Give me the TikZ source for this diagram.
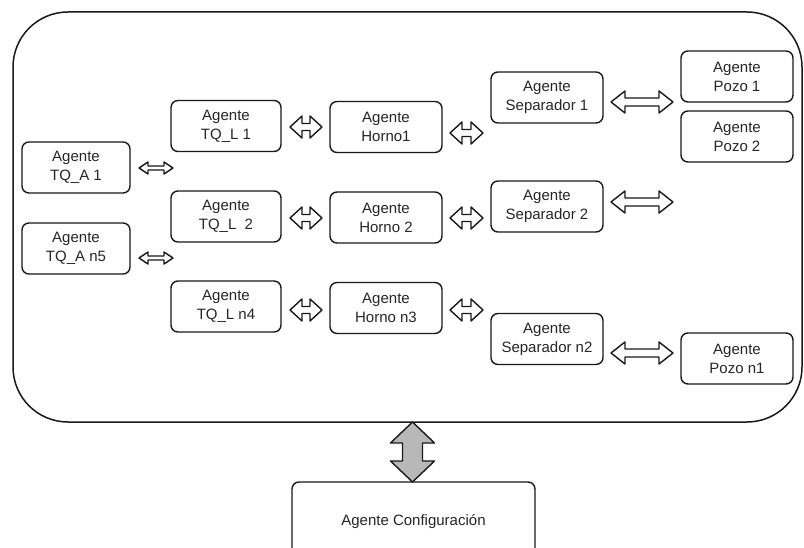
\documentclass[tikz,border=0pt]{standalone}
\usepackage{fontspec}
\setmainfont{Liberation Sans}
\begin{document}
\begin{tikzpicture}[x=1pt,y=-1pt,
  arrow fill/.initial=white,
  agent/.style={draw=black!90, line width=1.4pt, rounded corners=7pt, fill=white,
    align=center, inner sep=0pt, text=black!85,
    font=\fontsize{15}{19}\selectfont},
  smallbox/.style={agent, minimum width=110pt, minimum height=51pt},
  container/.style={draw=black!90, line width=1.5pt, rounded corners=55pt},
  arrowline/.style={draw=black!90, line width=1.4pt, line join=round},
  pics/dblarrow/.style args={#1/#2/#3/#4}{code={
    % length / head half-width / shaft half-width / head length
    \path[arrowline, fill=\pgfkeysvalueof{/tikz/arrow fill}]
      (0,0) -- (#4,#2) -- (#4,#3) -- (#1-#4,#3) -- (#1-#4,#2)
      -- (#1,0) -- (#1-#4,-#2) -- (#1-#4,-#3) -- (#4,-#3) -- (#4,-#2) -- cycle;
  }}
]
\useasboundingbox (0,0) rectangle (804,548);
\clip (0,0) rectangle (804,548);

% enclosing system
\draw[container] (13,12) rectangle (802,422);
\coordinate (sysbottom) at (412.5,422);

% storage tanks
\node[smallbox, minimum width=108pt] (tqa1) at (76,167.5) {Agente\\TQ\_A 1};
\node[smallbox, minimum width=108pt] (tqan5) at (76,248.5) {Agente\\TQ\_A n5};

% line tanks
\node[smallbox] (tql1) at (226,126) {Agente\\TQ\_L 1};
\node[smallbox] (tql2) at (226,216.5) {Agente\\TQ\_L\ \ 2};
\node[smallbox] (tqln4) at (226,306.5) {Agente\\TQ\_L n4};

% furnaces
\node[smallbox, minimum width=112pt] (horno1) at (386,127) {Agente\\Horno1};
\node[smallbox, minimum width=112pt] (horno2) at (386,217.5) {Agente\\Horno 2};
\node[smallbox, minimum width=112pt] (hornon3) at (386,308) {Agente\\Horno n3};

% separators
\node[smallbox, minimum width=112pt] (sep1) at (547,97.5) {Agente\\Separador 1};
\node[smallbox, minimum width=112pt] (sep2) at (547,206.5) {Agente\\Separador 2};
\node[smallbox, minimum width=112pt] (sepn2) at (547,339) {Agente\\Separador\ n2};

% wells
\node[smallbox, minimum width=112pt] (pozo1) at (737,76.5) {Agente\\Pozo 1};
\node[smallbox, minimum width=112pt] (pozo2) at (737,136.5) {Agente\\Pozo 2};
\node[smallbox, minimum width=112pt] (pozon1) at (737,358.5) {Agente\\Pozo n1};

% configuration agent
\node[agent, minimum width=243pt, minimum height=80pt] (config) at (413.5,522)
  {\raisebox{5pt}{Agente Configuración}};

% exchange arrows
\pic at (139,168) {dblarrow=34/6/2/9};
\pic at (139,258) {dblarrow=34/6/2/9};

\pic at (290,127) {dblarrow=32/11/3.5/12};
\pic at (290,218) {dblarrow=32/11/3.5/12};
\pic at (290,310) {dblarrow=32/11/3.5/12};

\pic at (450,133) {dblarrow=33/11/3.5/12};
\pic at (450,218) {dblarrow=33/11/3.5/12};
\pic at (450,310) {dblarrow=33/11/3.5/12};

\pic at (611,102) {dblarrow=62/11/4/14};
\pic at (611,202) {dblarrow=62/11/4/14};
\pic at (611,353) {dblarrow=62/11/4/14};

% link to the configuration agent
\pic[rotate=-90, arrow fill=black!28] at (sysbottom) {dblarrow=60/22/10/21};
\end{tikzpicture}
\end{document}
